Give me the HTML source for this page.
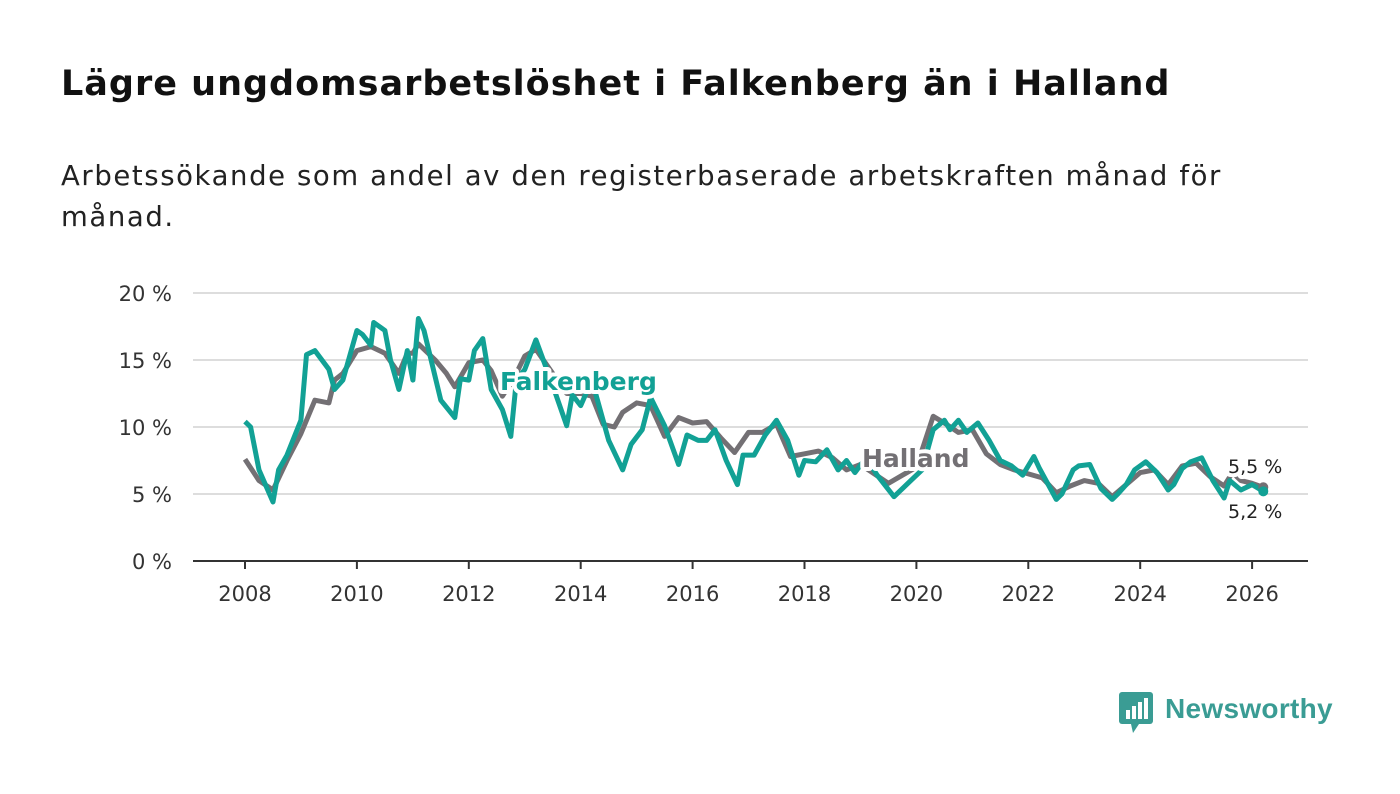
<!DOCTYPE html>
<html><head><meta charset="utf-8">
<style>
body{margin:0;background:#fff;width:1400px;height:794px;overflow:hidden;font-family:"DejaVu Sans",sans-serif;}
h1{position:absolute;left:61px;top:64px;margin:0;font-size:35px;font-weight:bold;color:#111;white-space:nowrap;letter-spacing:1px}
.sub{position:absolute;left:61px;top:156px;font-size:27.5px;color:#222;line-height:41px;width:1300px;white-space:nowrap;letter-spacing:1.6px}
svg{position:absolute;left:0;top:0;}
</style></head><body>
<h1>Lägre ungdomsarbetslöshet i Falkenberg än i Halland</h1>
<div class="sub">Arbetssökande som andel av den registerbaserade arbetskraften månad för<br>månad.</div>
<svg id="chart" width="1400" height="794"></svg>
<script>
const yTicks=[0,5,10,15,20];
const xTicks=[2008,2010,2012,2014,2016,2018,2020,2022,2024,2026];
const falkT=[2008.0,2008.1,2008.25,2008.5,2008.6,2008.75,2009.0,2009.1,2009.25,2009.5,2009.6,2009.75,2010.0,2010.1,2010.25,2010.3,2010.5,2010.6,2010.75,2010.9,2011.0,2011.1,2011.2,2011.5,2011.75,2011.85,2012.0,2012.1,2012.25,2012.4,2012.6,2012.75,2012.85,2013.0,2013.2,2013.5,2013.75,2013.85,2014.0,2014.2,2014.5,2014.75,2014.9,2015.1,2015.25,2015.5,2015.75,2015.9,2016.1,2016.25,2016.4,2016.6,2016.8,2016.9,2017.1,2017.3,2017.5,2017.7,2017.9,2018.0,2018.2,2018.4,2018.6,2018.75,2018.9,2019.1,2019.3,2019.6,2019.9,2020.1,2020.3,2020.5,2020.6,2020.75,2020.9,2021.1,2021.3,2021.5,2021.7,2021.9,2022.1,2022.2,2022.5,2022.6,2022.8,2022.9,2023.1,2023.3,2023.5,2023.6,2023.75,2023.9,2024.1,2024.3,2024.5,2024.6,2024.75,2024.9,2025.1,2025.3,2025.5,2025.6,2025.8,2026.0,2026.2];
const falkV=[10.4,10.0,6.8,4.4,6.8,7.9,10.5,15.4,15.7,14.3,12.8,13.5,17.2,16.9,16.1,17.8,17.2,15.0,12.8,15.7,13.5,18.1,17.2,12.0,10.7,13.6,13.5,15.7,16.6,12.8,11.3,9.3,13.5,14.3,16.5,13.1,10.1,12.4,11.6,13.5,9.0,6.8,8.7,9.8,12.2,10.1,7.2,9.4,9.0,9.0,9.8,7.5,5.7,7.9,7.9,9.4,10.5,9.0,6.4,7.5,7.4,8.3,6.8,7.5,6.6,7.7,6.4,4.8,6.0,6.8,9.8,10.5,9.8,10.5,9.6,10.3,9.0,7.5,7.1,6.4,7.8,6.9,4.6,5.0,6.8,7.1,7.2,5.4,4.6,5.0,5.7,6.8,7.4,6.6,5.3,5.7,6.9,7.4,7.7,6.0,4.7,6.0,5.3,5.7,5.2];
const hallT=[2008.0,2008.25,2008.5,2008.75,2009.0,2009.25,2009.5,2009.6,2009.75,2010.0,2010.25,2010.5,2010.75,2010.9,2011.0,2011.1,2011.4,2011.6,2011.75,2012.0,2012.25,2012.4,2012.6,2012.8,2013.0,2013.2,2013.5,2013.75,2014.0,2014.2,2014.4,2014.6,2014.75,2015.0,2015.25,2015.5,2015.75,2016.0,2016.25,2016.5,2016.75,2017.0,2017.25,2017.5,2017.75,2018.0,2018.25,2018.5,2018.75,2019.0,2019.25,2019.5,2019.75,2020.0,2020.3,2020.5,2020.75,2021.0,2021.25,2021.5,2021.75,2022.0,2022.25,2022.5,2022.75,2023.0,2023.25,2023.5,2023.75,2024.0,2024.25,2024.5,2024.75,2025.0,2025.25,2025.5,2025.65,2025.8,2026.0,2026.2];
const hallV=[7.6,6.0,5.3,7.5,9.5,12.0,11.8,13.5,14.0,15.7,16.0,15.5,14.0,15.5,15.5,16.2,15.0,14.0,13.0,14.8,15.0,14.2,12.3,13.6,15.3,15.8,14.0,12.5,12.5,12.3,10.2,10.0,11.1,11.8,11.6,9.3,10.7,10.3,10.4,9.2,8.1,9.6,9.6,10.2,7.8,8.0,8.2,7.7,6.8,7.2,6.5,5.8,6.4,7.0,10.8,10.3,9.6,9.8,8.0,7.2,6.8,6.5,6.2,5.1,5.6,6.0,5.8,4.8,5.7,6.6,6.8,5.7,7.1,7.3,6.3,5.6,6.6,6.0,5.8,5.5];
const NS='http://www.w3.org/2000/svg';
const svg=document.getElementById('chart');
const X=t=>245+(t-2008)*55.95;
const Y=v=>561-v*13.4;
function mk(tag,a){const e=document.createElementNS(NS,tag);for(const k in a)e.setAttribute(k,a[k]);svg.appendChild(e);return e;}
yTicks.forEach(v=>{
 const g=mk('line',{x1:193,x2:1308,y1:Y(v),y2:Y(v),stroke:v===0?'#333':'#ddd','stroke-width':2});
 
 
 const t=mk('text',{x:172,y:Y(v)+8,'text-anchor':'end','font-size':21,fill:'#333','font-family':'DejaVu Sans, sans-serif'});
 t.textContent=v+' %';
 
 
});
xTicks.forEach(yr=>{
 const l=mk('line',{x1:X(yr),x2:X(yr),y1:561,y2:569,stroke:'#333','stroke-width':2});
 
 
 const t=mk('text',{x:X(yr),y:601,'text-anchor':'middle','font-size':21,fill:'#333','font-family':'DejaVu Sans, sans-serif'});
 t.textContent=yr;
 
 
});
function path(T,V){return T.map((t,i)=>(i?'L':'M')+X(t).toFixed(1)+','+Y(V[i]).toFixed(1)).join(' ');}
const hp=mk('path',{d:path(hallT,hallV),fill:'none',stroke:'#737074','stroke-width':5,'stroke-linejoin':'round'});


const fp=mk('path',{d:path(falkT,falkV),fill:'none',stroke:'#12a195','stroke-width':5,'stroke-linejoin':'round'});


const hd=mk('circle',{cx:X(hallT[hallT.length-1]),cy:Y(hallV[hallV.length-1]),r:5,fill:'#737074'});


const fd=mk('circle',{cx:X(falkT[falkT.length-1]),cy:Y(falkV[falkV.length-1]),r:5,fill:'#12a195'});


function lab(txt,x,y,col,name,size,bold){
 const t=mk('text',{x:x,y:y,'font-size':size,fill:col,'font-weight':bold?'bold':'normal',stroke:'#fff','stroke-width':8,'paint-order':'stroke','stroke-linejoin':'round','font-family':'DejaVu Sans, sans-serif'});
 t.textContent=txt;
 
 
}
lab('Falkenberg',500,390,'#12a195','falkenberg-label',25,true);
lab('Halland',862,467,'#737074','halland-label',25,true);
lab('5,5 %',1228,473,'#222','halland-value-label',19,false);
lab('5,2 %',1228,518,'#222','falkenberg-value-label',19,false);
</script>
<div style="position:absolute;left:1119px;top:692px;display:flex;align-items:center;">
 <svg width="36" height="42" style="position:static"><rect x="0" y="0" width="34" height="32" rx="3" fill="#3a9c94"/><polygon points="12,32 20,32 14,41" fill="#3a9c94"/><rect x="7" y="18" width="4" height="9" fill="#fff"/><rect x="13" y="14" width="4" height="13" fill="#fff"/><rect x="19" y="10" width="4" height="17" fill="#fff"/><rect x="25" y="6" width="4" height="21" fill="#fff"/></svg>
 <span style="font-size:28px;font-weight:bold;color:#3a9c94;margin-left:10px;margin-top:-8px;font-family:'Liberation Sans',sans-serif;letter-spacing:0.3px">Newsworthy</span>
</div>
</body></html>
